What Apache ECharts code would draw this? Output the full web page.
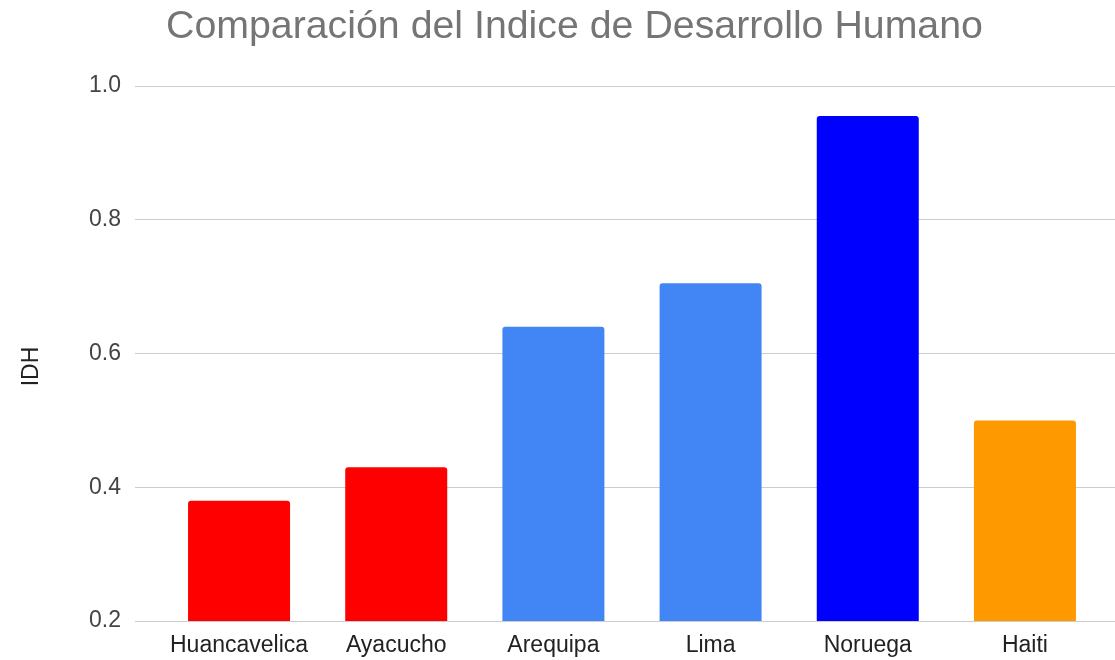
<!DOCTYPE html>
<html>
<head>
<meta charset="utf-8">
<script src="https://cdn.jsdelivr.net/npm/echarts@6.0.0/dist/echarts.min.js"></script>
<style>
  html, body { margin: 0; padding: 0; background: #fff; }
  #chart { width: 1115px; height: 660px; }
</style>
</head>
<body>
<div id="chart"></div>
<script>
var categories = ['Huancavelica', 'Ayacucho', 'Arequipa', 'Lima', 'Noruega', 'Haiti'];
var idhValues = [0.38, 0.43, 0.64, 0.705, 0.955, 0.50];
var barColors = ['#ff0000', '#ff0000', '#4285f4', '#4285f4', '#0000ff', '#ff9900'];
var yTicks = [0.2, 0.4, 0.6, 0.8, 1.0];

var font = '"Liberation Sans", Arial, sans-serif';

var barData = [];
for (var i = 0; i < categories.length; i++) {
  barData.push({
    value: [i, idhValues[i]],
    itemStyle: { color: barColors[i], borderRadius: [3, 3, 0, 0] }
  });
}

var chart = echarts.init(document.getElementById('chart'), null, { renderer: 'canvas' });

var option = {
  animation: false,
  backgroundColor: '#ffffff',
  title: {
    text: 'Comparación del Indice de Desarrollo Humano',
    left: 161,
    top: 3,
    textStyle: { color: '#757575', fontSize: 39.3, fontWeight: 'normal', fontFamily: font }
  },
  grid: { left: 135, right: 0, top: 86, bottom: 39 },
  xAxis: {
    type: 'value',
    min: -0.662,
    max: 5.573,
    axisLine: { show: false },
    axisTick: { show: false },
    splitLine: { show: false },
    axisLabel: {
      customValues: [0, 1, 2, 3, 4, 5],
      formatter: function (v) { return categories[Math.round(v)] || ''; },
      color: '#222222',
      fontSize: 23,
      fontFamily: font,
      margin: 13
    }
  },
  yAxis: {
    type: 'value',
    min: yTicks[0],
    max: yTicks[yTicks.length - 1],
    interval: 0.2,
    name: 'IDH',
    nameLocation: 'middle',
    nameGap: 92,
    nameTextStyle: { color: '#222222', fontSize: 23, fontFamily: font, padding: [0, 26, 0, 0] },
    axisLine: { show: false },
    axisTick: { show: false },
    splitLine: { lineStyle: { color: '#cccccc', width: 1 } },
    axisLabel: {
      formatter: function (v) { return v.toFixed(1); },
      color: '#444444',
      fontSize: 23,
      fontFamily: font,
      margin: 14,
      padding: [3, 0, 0, 0]
    }
  },
  series: [{
    type: 'bar',
    data: barData,
    barWidth: 102
  }]
};

chart.setOption(option);
</script>
</body>
</html>
